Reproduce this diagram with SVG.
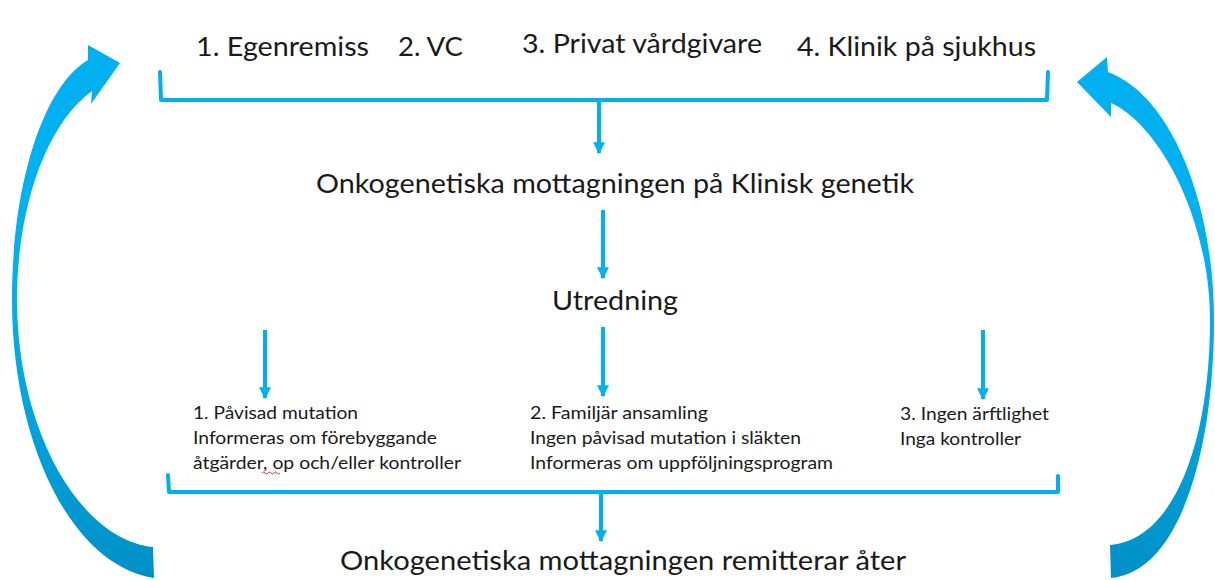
<svg xmlns="http://www.w3.org/2000/svg" width="1215" height="580" viewBox="0 0 1215 580">
<defs>
<style>
.t{font-family:Lato,"Open Sans","Liberation Sans",sans-serif;fill:#1a1a1a}
.big{font-size:27.5px}
.sm{font-size:18px}
.ln{fill:none;stroke:#00B0F0;stroke-width:4;stroke-linejoin:round;stroke-linecap:round}
.ar{fill:none;stroke:#00B0F0;stroke-width:4}
</style>
<marker id="ah" viewBox="0 0 10 10" refX="9" refY="5" markerWidth="3" markerHeight="3.4" markerUnits="strokeWidth" orient="auto">
<path d="M0 0 L10 5 L0 10 Z" fill="#00B0F0"/>
</marker>
<linearGradient id="g" gradientUnits="userSpaceOnUse" x1="0" y1="300" x2="0" y2="580">
<stop offset="0" stop-color="#00B0F0"/>
<stop offset="1" stop-color="#0090C6"/>
</linearGradient>
</defs>

<g id="sources">
<text class="t big" x="196" y="56" textLength="173" lengthAdjust="spacingAndGlyphs">1. Egenremiss</text>
<text class="t big" x="398" y="56" textLength="65" lengthAdjust="spacingAndGlyphs">2. VC</text>
<text class="t big" x="522" y="53" textLength="240" lengthAdjust="spacingAndGlyphs">3. Privat vårdgivare</text>
<text class="t big" x="797" y="56" textLength="239" lengthAdjust="spacingAndGlyphs">4. Klinik på sjukhus</text>
</g>

<g id="mottagning">
<text class="t big" x="316" y="193" textLength="598" lengthAdjust="spacingAndGlyphs">Onkogenetiska mottagningen på Klinisk genetik</text>
</g>

<g id="utredning">
<text class="t big" x="552" y="310" textLength="126" lengthAdjust="spacingAndGlyphs">Utredning</text>
</g>

<g id="utfall1">
<text class="t sm" x="193" y="419" textLength="165" lengthAdjust="spacingAndGlyphs">1. Påvisad mutation</text>
<text class="t sm" x="193" y="444" textLength="244" lengthAdjust="spacingAndGlyphs">Informeras om förebyggande</text>
<text class="t sm" x="193" y="469" textLength="268" lengthAdjust="spacingAndGlyphs">åtgärder, op och/eller kontroller</text>
<path d="M262 473 q1.5 -2 3 0 t3 0 t3 0 t3 0 t3 0 t3 0" fill="none" stroke="#e03030" stroke-width="1"/>
</g>

<g id="utfall2">
<text class="t sm" x="530" y="419" textLength="178" lengthAdjust="spacingAndGlyphs">2. Familjär ansamling</text>
<text class="t sm" x="530" y="444" textLength="271" lengthAdjust="spacingAndGlyphs">Ingen påvisad mutation i släkten</text>
<text class="t sm" x="530" y="469" textLength="303" lengthAdjust="spacingAndGlyphs">Informeras om uppföljningsprogram</text>
</g>

<g id="utfall3">
<text class="t sm" x="900" y="420" textLength="149" lengthAdjust="spacingAndGlyphs">3. Ingen ärftlighet</text>
<text class="t sm" x="900" y="445" textLength="121" lengthAdjust="spacingAndGlyphs">Inga kontroller</text>
</g>

<g id="remitterar">
<text class="t big" x="340" y="570" textLength="566" lengthAdjust="spacingAndGlyphs">Onkogenetiska mottagningen remitterar åter</text>
</g>

<g id="connectors">
<path class="ln" d="M160 72 L161 100 L1047 100 L1048 72"/>
<line class="ar" x1="599" y1="101" x2="599" y2="153" marker-end="url(#ah)"/>
<line class="ar" x1="603" y1="210" x2="603" y2="278" marker-end="url(#ah)"/>
<line class="ar" x1="265" y1="330" x2="265" y2="398" marker-end="url(#ah)"/>
<line class="ar" x1="603" y1="327" x2="603" y2="396" marker-end="url(#ah)"/>
<line class="ar" x1="983" y1="330" x2="983" y2="399" marker-end="url(#ah)"/>
<path class="ln" d="M168 475 L169 492 L1058 492 L1058 476"/>
<line class="ar" x1="601" y1="493" x2="601" y2="541" marker-end="url(#ah)"/>
<path id="loop-left" fill="url(#g)" d="M154 578 C70 565 12 440 12 300 C12 180 45 85 88 60 L88 45 L120 63 L91 104 L92 91 C45 125 17 210 17 300 C17 430 80 540 153 547 Z"/>
<path id="loop-right" fill="url(#g)" d="M1111 578 C1180 572 1214 450 1214 320 C1214 200 1170 95 1108 72 L1107 57 L1077 82 L1111 117 L1111 103 C1160 125 1210 220 1210 320 C1210 440 1175 540 1110 545 Z"/>
</g>
</svg>
